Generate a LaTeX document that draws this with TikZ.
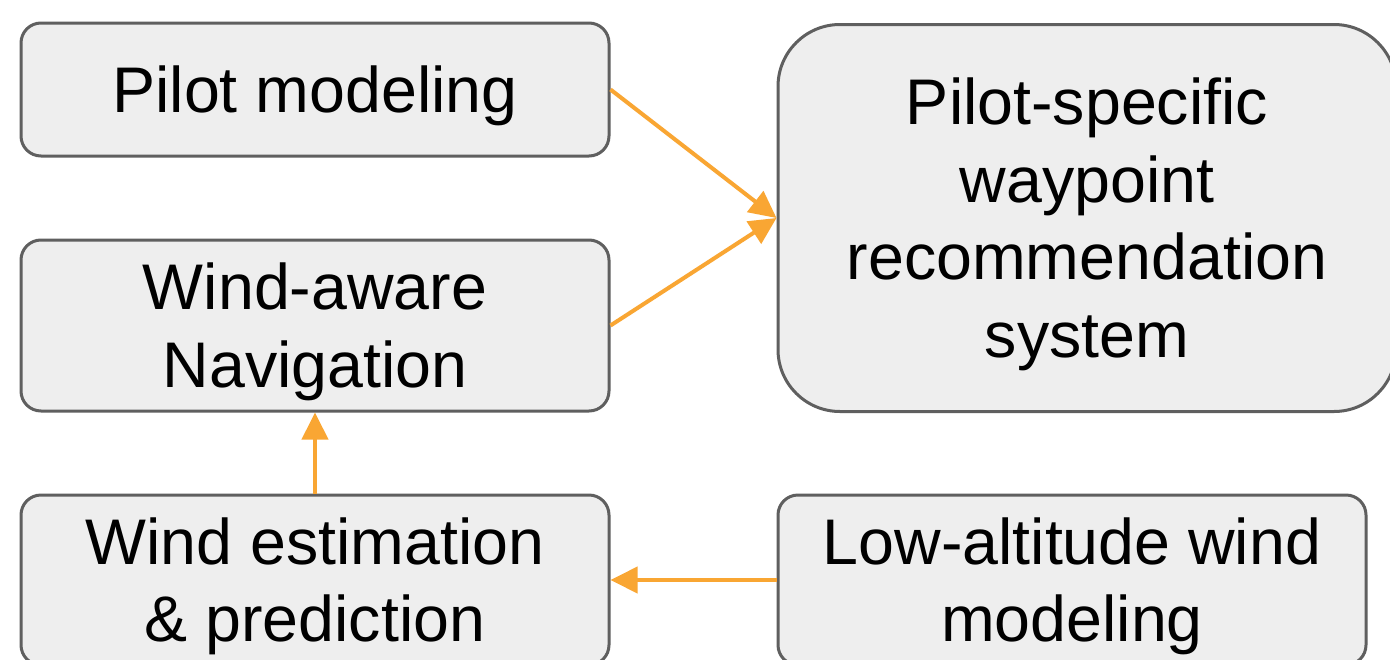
\documentclass[tikz,border=0pt]{standalone}
\usepackage{fontspec}
\setmainfont{Liberation Sans}
\usetikzlibrary{arrows.meta}
\definecolor{boxfill}{HTML}{EEEEEE}
\definecolor{boxline}{HTML}{5F5F5F}
\definecolor{arrowc}{HTML}{F9A633}
\newcommand{\lowerstrut}{\rule{0pt}{59pt}}
\tikzset{
  box/.style={draw=boxline, fill=boxfill, line width=3pt, rounded corners=20pt,
    inner sep=0pt, align=center, text=black,
    font=\fontsize{64.5}{77.5}\selectfont},
  conn/.style={draw=arrowc, line width=4pt, -{Triangle[length=27pt,width=26pt]}}
}
\begin{document}
\begin{tikzpicture}[x=1pt,y=-1pt]
\useasboundingbox (0,0) rectangle (1390,659);
\clip (0,0) rectangle (1390,659);
\fill[white] (0,0) rectangle (1390,659);
\node[box, minimum width=588pt, minimum height=133pt] (pm) at (315,89.5) {\lowerstrut Pilot modeling};
\node[box, minimum width=588pt, minimum height=171pt] (wa) at (315,325.5) {\lowerstrut Wind-aware\\Navigation};
\node[box, minimum width=588pt, minimum height=170pt] (we) at (315,580) {\lowerstrut Wind estimation\\\& prediction};
\node[box, minimum width=588pt, minimum height=170pt] (la) at (1072,580) {\lowerstrut Low-altitude wind\\modeling};
\node[box, rounded corners=62pt, minimum width=618pt, minimum height=387pt] (ps) at (1087,218) {\lowerstrut Pilot-specific\\waypoint\\recommendation\\system};
\draw[conn] (pm.east) -- (ps.west);
\draw[conn] (wa.east) -- (ps.west);
\draw[conn] (we.north) -- (wa.south);
\draw[conn] (la.west) -- (we.east);
\end{tikzpicture}
\end{document}
